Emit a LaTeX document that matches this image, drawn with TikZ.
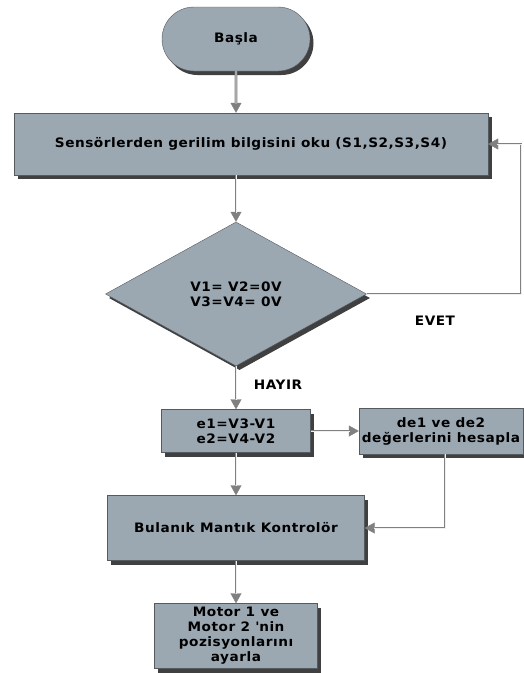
\documentclass[tikz,border=0pt]{standalone}
\usepackage{fontspec}
\setmainfont{DejaVu Sans}[FakeStretch=1.05,LetterSpace=4]
\usetikzlibrary{shapes.geometric,shapes.misc,shadows,arrows.meta}
\definecolor{boxfill}{RGB}{155,168,178}
\definecolor{boxline}{RGB}{85,90,95}
\definecolor{linkgray}{RGB}{128,128,128}
\tikzset{
  block/.style={rectangle,draw=boxline,thin,fill=boxfill,align=center,inner sep=2pt,
    drop shadow={shadow xshift=3.5pt,shadow yshift=-4pt,opacity=0.75,fill=black}},
  terminal/.style={block,rounded rectangle},
  decision/.style={block,diamond,inner sep=0pt},
  link/.style={draw=linkgray,line width=2.6pt,
    -{Triangle[width=11pt,length=10pt,line width=0.4pt,fill=linkgray]},
    postaction={draw=gray!12,line width=0.8pt,-,shorten >=9pt}},
  tag/.style={font=\fontsize{13}{15}\selectfont\bfseries}
}
\begin{document}
\begin{tikzpicture}[x=1pt,y=-1pt,every node/.style={font=\fontsize{13}{15}\selectfont\bfseries}]
\useasboundingbox (0,0) rectangle (524,673);
% flowchart blocks
\node[terminal,minimum width=152,minimum height=64] (start) at (236,39) {Başla};
\node[block,minimum width=474,minimum height=62] (read) at (251,144) {Sensörlerden gerilim bilgisini oku (S1,S2,S3,S4)};
\node[decision,minimum width=261,minimum height=144] (check) at (236,294) {V1= V2=0V\\V3=V4= 0V};
\node[block,minimum width=149,minimum height=43] (err) at (236,431) {e1=V3-V1\\e2=V4-V2};
\node[block,minimum width=164,minimum height=46] (deriv) at (441,431) {de1 ve de2\\değerlerini hesapla};
\node[block,minimum width=257,minimum height=65] (fuzzy) at (236,528) {Bulanık Mantık Kontrolör};
\node[block,minimum width=163,minimum height=65] (motor) at (236,636) {Motor 1 ve\\Motor 2 \textquotesingle nin\\pozisyonlarını\\ayarla};
% labels
\node[tag] (yes) at (435,321) {EVET};
\node[tag] (no) at (278,385) {HAYIR};
\coordinate (loop) at (521,294);
% connectors
\draw[link] (start) -- (start |- read.north);
\draw[link] (read.south -| check) -- (check);
\draw[link] (check.east) -- (loop) |- (read.east);
\draw[link] (check) -- (err);
\draw[link] (err) -- (deriv);
\draw[link] (err) -- (fuzzy);
\draw[link] ([xshift=4pt]deriv.south) |- (fuzzy.east);
\draw[link] (fuzzy) -- (motor);
\end{tikzpicture}
\end{document}
